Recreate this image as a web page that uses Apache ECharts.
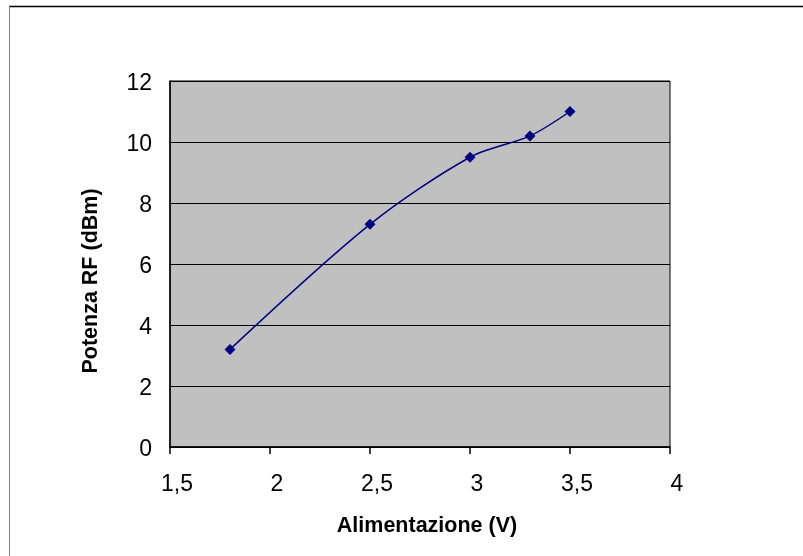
<!DOCTYPE html>
<html>
<head>
<meta charset="utf-8">
<script src="https://cdn.jsdelivr.net/npm/echarts@6/dist/echarts.min.js"></script>
<style>
html,body{margin:0;padding:0;background:#fff;}
#c{width:803px;height:556px;}
</style>
</head>
<body>
<div id="c"></div>
<script>
const xValues = [1.8, 2.5, 3.0, 3.3, 3.5];
const yValues = [3.2, 7.3, 9.5, 10.2, 11.0];
const xTitle = 'Alimentazione (V)';
const yTitle = 'Potenza RF (dBm)';

const chart = echarts.init(document.getElementById('c'), null, {renderer: 'canvas'});
const font = '"Liberation Sans", Arial, sans-serif';
chart.setOption({
  animation: false,
  backgroundColor: '#ffffff',
  graphic: [
    {type: 'line', shape: {x1: 9, y1: 6.5, x2: 803, y2: 6.5}, style: {stroke: '#000', lineWidth: 1.5}},
    {type: 'line', shape: {x1: 9.5, y1: 6, x2: 9.5, y2: 556}, style: {stroke: '#808080', lineWidth: 1}}
  ],
  grid: {
    left: 170, top: 81, width: 500, height: 366,
    show: true, backgroundColor: '#C0C0C0', borderColor: '#000', borderWidth: 1
  },
  xAxis: {
    type: 'value', min: 1.5, max: 4, interval: 0.5,
    name: xTitle, nameLocation: 'middle', nameGap: 68,
    nameTextStyle: {fontFamily: font, fontSize: 21.5, fontWeight: 'bold', color: '#000', padding: [0, 0, 0, 14]},
    axisLine: {show: true, lineStyle: {color: '#000', width: 1.5}},
    axisTick: {show: true, length: 7, inside: false, lineStyle: {color: '#000', width: 1.5}},
    axisLabel: {fontFamily: font, fontSize: 23, color: '#000', margin: 26, padding: [0, 0, 0, 14],
      formatter: v => String(v).replace('.', ',')},
    splitLine: {show: false}
  },
  yAxis: {
    type: 'value', min: 0, max: 12, interval: 2,
    name: yTitle, nameLocation: 'middle', nameGap: 68,
    nameTextStyle: {fontFamily: font, fontSize: 21.5, fontWeight: 'bold', color: '#000', padding: [0, 34, 0, 0]},
    axisLine: {show: true, lineStyle: {color: '#000', width: 1.5}},
    axisTick: {show: false},
    axisLabel: {fontFamily: font, fontSize: 23, color: '#000', margin: 18, verticalAlign: 'top', lineHeight: 6},
    splitLine: {show: true, lineStyle: {color: '#000', width: 1.2}}
  },
  series: [{
    type: 'line',
    data: xValues.map((x, i) => [x, yValues[i]]),
    smooth: 0.3,
    symbol: 'diamond', symbolSize: 11,
    lineStyle: {color: '#000080', width: 1.5},
    itemStyle: {color: '#000080'}
  }]
});
</script>
</body>
</html>
